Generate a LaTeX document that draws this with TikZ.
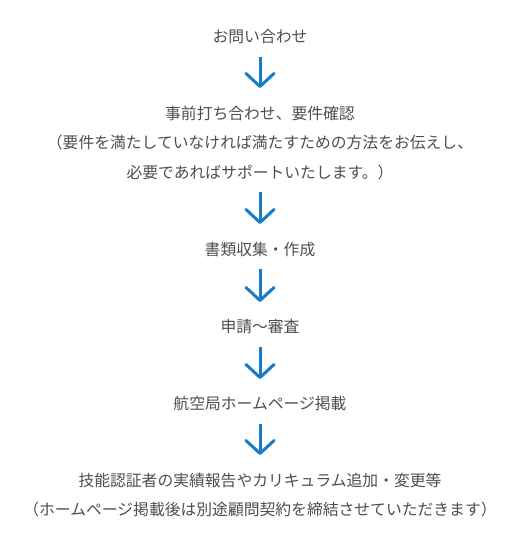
\documentclass[tikz,border=0pt]{standalone}
\usepackage{fontspec}
\setmainfont{Noto Sans CJK JP}
\usetikzlibrary{arrows.meta}
\definecolor{flowblue}{RGB}{22,124,200}
\definecolor{textgray}{RGB}{78,78,78}
\begin{document}
\begin{tikzpicture}[x=1pt, y=-1pt,
    every node/.style={text=textgray, font=\fontsize{15.8}{29.5}\selectfont, align=center, inner sep=0pt, anchor=north},
    flow/.style={draw=flowblue, line width=3pt, shorten <=12.5pt, shorten >=17.5pt,
      -{Straight Barb[length=13pt, width=28pt, round]}}
  ]
  \useasboundingbox (0,0) rectangle (520,547);

  % steps
  \node (inquiry) at (260,29.5) {お問い合わせ};
  \node (meeting) at (260,105.5) {事前打ち合わせ、要件確認\\（要件を満たしていなければ満たすための方法をお伝えし、\\必要であればサポートいたします。）};
  \node (documents) at (260,241.5) {書類収集・作成};
  \node (review) at (260,319.5) {申請〜審査};
  \node (listing) at (260,396.5) {航空局ホームページ掲載};
  \node (report) at (260,472.5) {技能認証者の実績報告やカリキュラム追加・変更等\\（ホームページ掲載後は別途顧問契約を締結させていただきます）};

  % arrows
  \draw[flow] (inquiry.south) -- (meeting.north);
  \draw[flow] (meeting.south) -- (documents.north);
  \draw[flow] (documents.south) -- (review.north);
  \draw[flow] (review.south) -- (listing.north);
  \draw[flow] (listing.south) -- (report.north);
\end{tikzpicture}
\end{document}
